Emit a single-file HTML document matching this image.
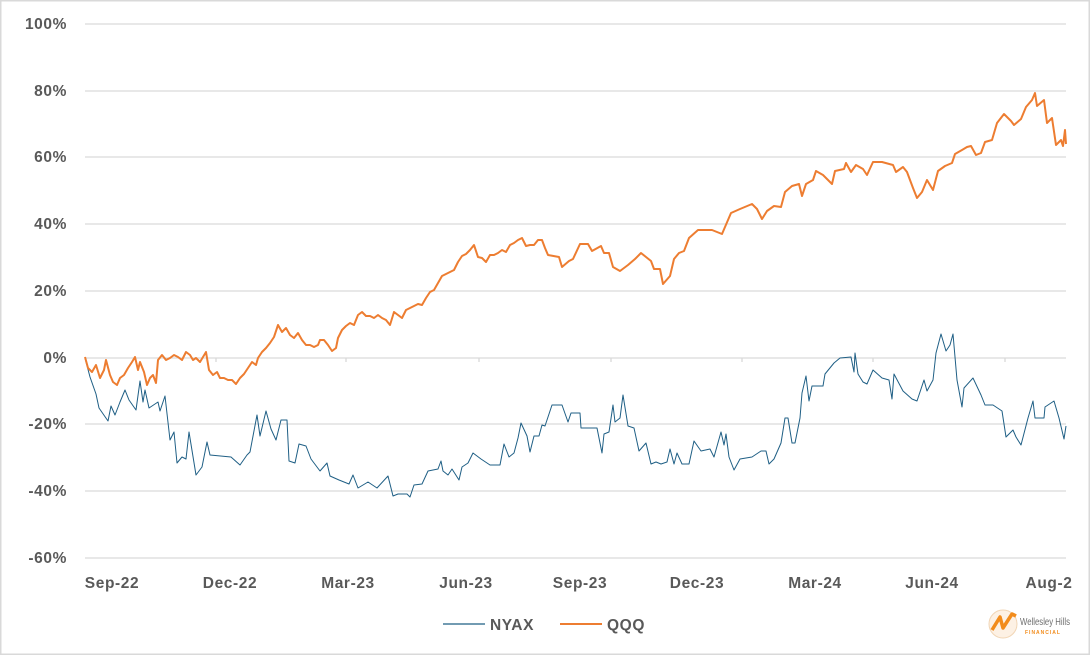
<!DOCTYPE html>
<html><head><meta charset="utf-8"><style>
html,body{margin:0;padding:0;background:#fff;}
svg{display:block;font-family:"Liberation Sans",Arial,sans-serif;}
</style></head><body>
<svg width="1090" height="655" viewBox="0 0 1090 655" xmlns="http://www.w3.org/2000/svg">
<rect x="0.5" y="0.5" width="1089" height="654" fill="#fff" stroke="#d9d9d9" stroke-width="2"/>
<g stroke="#d9d9d9" stroke-width="1.3">
<line x1="85" y1="24" x2="1066" y2="24"/>
<line x1="85" y1="91" x2="1066" y2="91"/>
<line x1="85" y1="157" x2="1066" y2="157"/>
<line x1="85" y1="224" x2="1066" y2="224"/>
<line x1="85" y1="291" x2="1066" y2="291"/>
<line x1="85" y1="424" x2="1066" y2="424"/>
<line x1="85" y1="491" x2="1066" y2="491"/>
<line x1="85" y1="558" x2="1066" y2="558"/>
<line x1="85" y1="358" x2="1066" y2="358"/>
<line x1="216" y1="358" x2="216" y2="362"/><line x1="346" y1="358" x2="346" y2="362"/><line x1="479" y1="358" x2="479" y2="362"/><line x1="611" y1="358" x2="611" y2="362"/><line x1="742" y1="358" x2="742" y2="362"/><line x1="873" y1="358" x2="873" y2="362"/><line x1="1005" y1="358" x2="1005" y2="362"/>
</g>
<g fill="#595959" font-size="15.5" font-weight="bold" text-anchor="end" letter-spacing="0.6">
<text x="67" y="29">100%</text><text x="67" y="96">80%</text><text x="67" y="162">60%</text><text x="67" y="229">40%</text><text x="67" y="296">20%</text><text x="67" y="363">0%</text><text x="67" y="429">-20%</text><text x="67" y="496">-40%</text><text x="67" y="563">-60%</text>
</g>
<g fill="#595959" font-size="15.5" font-weight="bold" text-anchor="middle" letter-spacing="0.6">
<text x="112" y="588">Sep-22</text><text x="230" y="588">Dec-22</text><text x="348" y="588">Mar-23</text><text x="466" y="588">Jun-23</text><text x="580" y="588">Sep-23</text><text x="697" y="588">Dec-23</text><text x="815" y="588">Mar-24</text><text x="932" y="588">Jun-24</text><text x="1049" y="588">Aug-2</text>
</g>
<polyline fill="none" stroke="#1f5f85" stroke-width="1" stroke-linejoin="round" points="85,358 90,377 96,394 99,408 108,421 111,406 115,415 120,402 125,390 129,400 136,410 140,381 143,402 145,390 149,408 158,402 160,411 165,396 170,440 174,432 177,463 182,457 186,459 189,432 196,475 202,467 207,442 210,455 231,457 240,465 247,455 250,452 257,415 260,436 266,411 271,429 276,440 281,420 287,420 289,461 295,463 299,444 306,446 311,459 320,471 327,463 330,476 339,480 349,484 353,475 358,488 368,482 377,488 388,476 393,496 398,494 407,494 410,497 414,485 422,484 428,471 438,469 441,461 443,471 448,475 452,469 459,480 462,467 468,463 473,453 481,459 490,465 500,465 504,444 509,457 514,453 518,438 521,423 527,436 530,452 534,436 539,436 542,425 545,426 552,405 562,405 568,422 571,413 580,413 581,428 597,428 602,453 604,434 609,432 613,405 615,422 620,418 623,395 628,426 634,428 639,451 646,443 651,464 656,462 661,464 667,462 670,449 674,464 677,453 682,464 689,464 694,441 701,451 710,449 714,457 721,432 724,445 726,434 729,457 734,470 740,459 752,457 761,451 766,451 769,464 774,459 781,443 785,418 788,418 792,443 795,443 800,418 802,393 806,376 809,401 812,386 823,386 825,374 834,363 840,358 851,357 854,372 855,353 858,374 863,382 867,384 873,370 882,378 889,380 892,399 894,374 903,391 912,399 917,401 924,380 927,391 933,380 936,353 941,334 946,351 950,345 953,334 957,380 962,407 964,388 973,378 981,395 985,405 993,405 1002,411 1006,437 1013,430 1016,437 1021,445 1028,418 1033,401 1035,418 1044,418 1045,407 1054,401 1059,418 1064,439 1066,426"/>
<polyline fill="none" stroke="#ed7d31" stroke-width="2" stroke-linejoin="round" points="85,357 88,368 92,372 96,365 100,378 104,370 106,360 110,375 113,382 117,385 120,378 124,375 128,368 132,362 135,357 138,370 140,362 144,372 147,385 150,378 153,375 156,383 158,360 162,355 166,360 170,358 174,355 178,357 182,360 186,352 190,355 193,360 196,358 200,362 203,357 206,352 209,370 213,375 217,372 220,378 224,378 228,380 232,380 236,384 240,378 244,374 248,368 252,362 256,365 258,358 262,352 266,348 270,343 274,337 278,325 282,332 286,328 290,335 294,338 298,333 302,340 306,345 310,345 314,347 318,345 320,340 324,340 328,345 332,351 336,348 338,338 342,330 346,326 350,323 354,325 358,315 362,312 366,316 370,316 374,318 378,315 382,318 386,320 390,325 394,312 398,315 402,318 406,310 410,308 414,306 418,304 422,305 426,298 430,292 434,290 438,283 442,276 446,274 450,272 454,270 458,262 462,256 466,254 470,250 474,245 478,257 482,258 486,262 490,255 494,255 498,253 502,250 506,252 510,245 514,243 518,240 522,238 526,246 530,245 534,245 538,240 542,240 545,248 548,255 559,257 562,267 569,261 573,259 580,244 588,244 592,251 601,246 604,253 609,253 613,267 620,271 628,265 635,259 641,253 646,257 651,261 654,269 660,269 663,284 670,276 674,259 679,253 684,251 689,238 698,230 712,230 722,234 731,213 740,209 752,204 757,209 762,219 767,211 774,206 781,207 785,192 792,186 799,184 802,196 806,184 813,180 816,171 823,175 832,184 835,171 844,169 846,163 851,172 856,165 863,169 867,175 873,162 882,162 893,165 896,172 903,167 907,172 913,188 917,198 922,192 927,180 933,190 938,171 945,166 952,163 955,154 962,150 967,147 971,146 976,155 981,153 985,142 992,140 997,123 1004,114 1011,121 1014,125 1021,119 1026,107 1032,100 1035,93 1037,106 1044,100 1047,123 1052,118 1056,145 1061,140 1063,146 1065,130 1066,144"/>
<line x1="443" y1="624" x2="485" y2="624" stroke="#1f5f85" stroke-width="1.2"/>
<text x="490" y="630" fill="#595959" font-size="15.5" font-weight="bold" letter-spacing="0.6">NYAX</text>
<line x1="560" y1="624" x2="602" y2="624" stroke="#ed7d31" stroke-width="2"/>
<text x="607" y="630" fill="#595959" font-size="15.5" font-weight="bold" letter-spacing="0.6">QQQ</text>
<circle cx="1003" cy="624" r="14" fill="#fdf1e4" stroke="#f1d5b5" stroke-width="1"/>
<path d="M992,630 L1000,617 L1003,628 L1012,614 L1016,616" fill="none" stroke="#f28c1c" stroke-width="3.5" stroke-linejoin="round"/>
<text x="1020" y="625" fill="#6d6d6d" font-size="10" textLength="50" lengthAdjust="spacingAndGlyphs">Wellesley Hills</text>
<text x="1025" y="634" fill="#f28c1c" font-size="5" font-weight="bold" letter-spacing="1">FINANCIAL</text>
</svg>
</body></html>
